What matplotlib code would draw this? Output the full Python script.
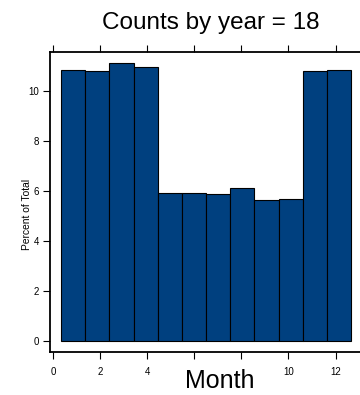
import matplotlib
matplotlib.use("Agg")
import matplotlib.pyplot as plt

# Monthly share of counts (percent of total), twelve bins.
months = [1, 2, 3, 4, 5, 6, 7, 8, 9, 10, 11, 12]
percent = [10.85, 10.80, 11.10, 10.97, 5.90, 5.90, 5.86, 6.12, 5.64, 5.68, 10.80, 10.86]
bin_lo, bin_hi = 0.355, 12.655
xticks = [0, 2, 4, 6, 8, 10, 12]
xticklabels = ["0", "2", "4", "", "", "10", "12"]
yticks = [0, 2, 4, 6, 8, 10]

plt.rcParams["font.family"] = ["Liberation Sans", "DejaVu Sans"]

fig = plt.figure(figsize=(3.6, 3.95), dpi=100)
ax = fig.add_axes([50 / 360, 43 / 395, 312.6 / 360, 300 / 395])

width = (bin_hi - bin_lo) / len(months)
lefts = [bin_lo + i * width for i in range(len(months))]
ax.bar(lefts, percent, width=width, align="edge", color="#00407f",
       edgecolor="black", linewidth=0.8)

ax.set_xlim(-0.12, 13.15)
ax.set_ylim(-0.44, 11.56)

for s in ax.spines.values():
    s.set_linewidth(1.3)

ax.set_xticks(xticks)
ax.set_xticklabels(xticklabels, fontsize=7)
ax.set_yticks(yticks)
ax.set_yticklabels([str(v) for v in yticks], fontsize=7)
ax.tick_params(axis="x", which="both", direction="out", length=5, width=0.8,
               top=True, labeltop=False, pad=6)
ax.tick_params(axis="y", direction="out", length=5, width=0.8, pad=3)

ax.set_ylabel("Percent of Total", fontsize=7.4)
ax.yaxis.set_label_coords(-0.058, 0.46)

fig.text(211 / 360, 1 - 23 / 395, "Counts by year = 18", ha="center", va="center",
         fontsize=17.5)
fig.text(220 / 360, 1 - 381 / 395, "Month", ha="center", va="center",
         fontsize=18)

fig.savefig("out.png", dpi=100)
